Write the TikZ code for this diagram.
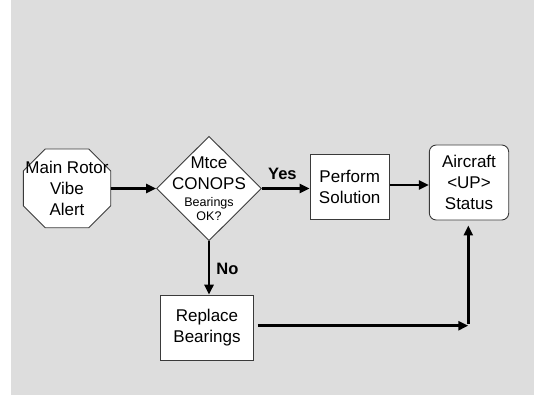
\documentclass[tikz,border=0pt]{standalone}
\usepackage{fontspec}
\setmainfont{Liberation Sans}
\usetikzlibrary{shapes.geometric,arrows.meta}
\definecolor{panel}{HTML}{DDDDDD}
\definecolor{edge}{HTML}{3A3A3A}
\begin{document}
\begin{tikzpicture}[x=1pt, y=-1pt,
   every node/.style={font=\fontsize{17}{21}\selectfont, align=center},
   stepbox/.style={draw=edge, line width=0.9pt, fill=white, inner sep=0pt},
   decision/.style={stepbox, diamond, minimum width=105pt, minimum height=104.5pt},
   status/.style={stepbox, rounded corners=7pt},
   flow/.style={line width=2.8pt, -{Triangle[length=10pt,width=9pt]}},
   lbl/.style={font=\fontsize{16.5}{20}\selectfont\bfseries, inner sep=2pt}]

\useasboundingbox (0,0) rectangle (534,395);
\fill[panel] (11,0) rectangle (534,395);

% octagon of the alert, then its text on top
\coordinate (vibec) at (67,188.4);
\filldraw[stepbox] ([shift={(-21.8,-39.35)}]vibec) -- ([shift={(21.8,-39.35)}]vibec)
   -- ([shift={(43.7,-17.5)}]vibec) -- ([shift={(43.7,17.5)}]vibec)
   -- ([shift={(21.8,39.35)}]vibec) -- ([shift={(-21.8,39.35)}]vibec)
   -- ([shift={(-43.7,17.5)}]vibec) -- ([shift={(-43.7,-17.5)}]vibec) -- cycle;
\node[inner sep=0pt, minimum width=87.4pt, minimum height=78.7pt] (vibe) at (vibec)
   {\makebox[0pt]{Main Rotor}\\Vibe\\Alert};

\node[decision] (conops) at (209,188.5)
   {\makebox[0pt]{Mtce}\\\makebox[0pt]{CONOPS}\\[-4pt]
    \makebox[0pt]{\fontsize{12.5}{14}\selectfont Bearings}\\[-6.5pt]
    \makebox[0pt]{\fontsize{12.5}{14}\selectfont OK?}};
\node[stepbox, minimum width=79.3pt, minimum height=65.3pt] (perform) at (349.7,186.7)
   {Perform\\Solution};
\node[status, minimum width=79.4pt, minimum height=75pt] (aircraft) at (469,182.5)
   {Aircraft\\\textless UP\textgreater\\Status};
\node[stepbox, minimum width=92.6pt, minimum height=65.7pt] (replace) at (207,328)
   {Replace\\Bearings};
\coordinate (corner) at (468.3,325.7);

\draw[flow] (vibe.east) -- (conops.west);
\draw[flow] (conops.east) -- node[lbl, above=5pt, pos=.43] {Yes} (conops.east -| perform.west);
\draw[flow] ([yshift=1.7pt]perform.east) -- ([yshift=1.7pt]perform.east -| aircraft.west);
\draw[flow] (conops.south) -- node[lbl, right=4pt, pos=.52] {No} (conops.south |- replace.north);
\draw[flow] ([xshift=4pt,yshift=2.3pt]replace.east) -- (corner);
\draw[flow, shorten >=5pt] ([yshift=1.4pt]corner) -- (corner |- aircraft.south);

\end{tikzpicture}
\end{document}
